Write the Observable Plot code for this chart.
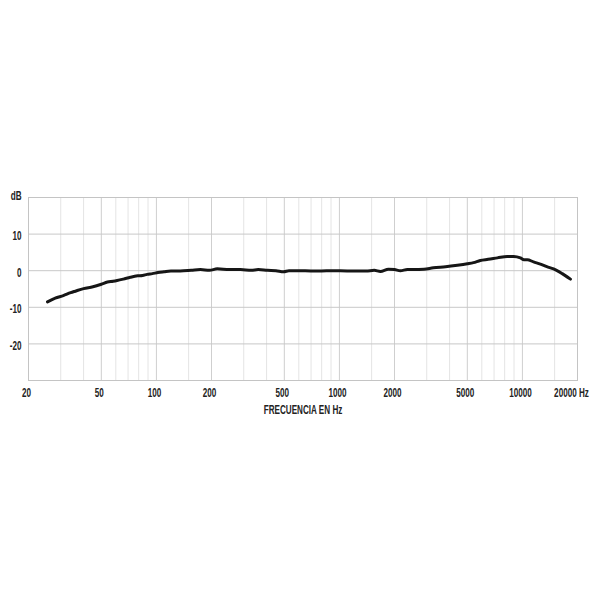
<!DOCTYPE html>
<html>
<head>
<meta charset="utf-8">
<script src="https://cdn.jsdelivr.net/npm/d3@7"></script>
<script src="https://cdn.jsdelivr.net/npm/@observablehq/plot@0.6"></script>
<style>
  html, body { margin: 0; padding: 0; background: #fff; }
  #chart { width: 600px; height: 600px; }
  svg text { font-family: "Liberation Sans", Arial, sans-serif; font-weight: bold; }
</style>
</head>
<body>
<div id="chart"></div>
<script>
const freqs = [25.4, 28, 31, 34, 36, 40, 45, 50, 54, 58, 61, 66, 72, 79, 84, 89, 95, 102, 110, 120, 135, 155, 174, 195, 215, 250, 288, 330, 360, 405, 450, 496, 530, 560, 650, 750, 850, 1013, 1200, 1400, 1550, 1675, 1853, 2000, 2154, 2350, 2540, 2900, 3260, 3800, 4410, 5000, 5400, 5890, 6500, 7300, 8260, 8960, 9750, 10200, 10640, 11500, 12540, 13600, 14800, 16500, 18300];
const levels = [-8.5, -7.5, -6.8, -6.0, -5.6, -4.9, -4.4, -3.7, -3.1, -2.9, -2.7, -2.3, -1.8, -1.4, -1.3, -1.0, -0.8, -0.5, -0.3, -0.1, -0.1, 0.1, 0.3, 0.1, 0.5, 0.3, 0.3, 0.1, 0.3, 0.1, 0.0, -0.3, 0.0, 0.0, 0.0, -0.1, 0.0, 0.0, -0.1, -0.1, 0.1, -0.2, 0.4, 0.3, 0.0, 0.3, 0.3, 0.4, 0.8, 1.1, 1.5, 1.9, 2.2, 2.8, 3.1, 3.5, 3.9, 3.9, 3.5, 3.0, 3.0, 2.4, 1.8, 1.1, 0.5, -0.8, -2.3];

const xTicks = [20, 50, 100, 200, 500, 1000, 2000, 5000, 10000];
const xMajorGrid = [50, 100, 200, 500, 1000, 2000, 5000, 10000];
const xMinorGrid = [30, 40, 60, 70, 80, 90, 150, 300, 400, 600, 700, 800, 900, 1500, 3000, 4000, 6000, 7000, 8000, 9000, 15000];
const yTicks = [-20, -10, 0, 10];
const yGrid = [-20, -10, 0, 10];
const lastTick = [{f: 20000, label: "20000 Hz"}];
const unitLabel = [{v: 20, label: "dB"}];
const xTitle = "FRECUENCIA EN Hz";

const data = freqs.map((f, i) => ({f, v: levels[i]}));

const chart = Plot.plot({
  width: 600,
  height: 600,
  marginLeft: 28,
  marginRight: 23,
  marginTop: 197,
  marginBottom: 220,
  style: {fontSize: "12.5px", color: "#222"},
  x: {type: "log", domain: [20, 20000], axis: null},
  y: {domain: [-30, 20], axis: null},
  marks: [
    Plot.ruleX(xMinorGrid, {stroke: "#e4e4e4", strokeWidth: 1}),
    Plot.ruleX(xMajorGrid, {stroke: "#cfcfcf", strokeWidth: 1}),
    Plot.ruleY(yGrid, {stroke: "#c8c8c8", strokeWidth: 1}),
    Plot.frame({stroke: "#c4c4c4"}),
    Plot.text(xTicks, {x: d => d, text: d => String(d), frameAnchor: "bottom", dy: 16, dx: -2, fill: "#222"}),
    Plot.text([xTitle], {text: d => d, frameAnchor: "bottom", dy: 33, fill: "#222"}),
    Plot.text(lastTick, {x: "f", text: "label", frameAnchor: "bottom", dy: 16, dx: -6, fill: "#222"}),
    Plot.text(yTicks, {y: d => d, text: d => String(d), frameAnchor: "left", textAnchor: "end", dx: -7, dy: 2, fill: "#222"}),
    Plot.text(unitLabel, {y: "v", text: "label", frameAnchor: "left", textAnchor: "end", dx: -7, dy: -2, fill: "#222"}),
    Plot.line(data, {x: "f", y: "v", stroke: "#161616", strokeWidth: 3, curve: "monotone-x"})
  ]
});

// condense all texts horizontally (narrow bold lettering)
chart.querySelectorAll("text").forEach(el => {
  const t = el.getAttribute("transform") || "";
  el.setAttribute("transform", `${t} scale(0.65,1)`);
});
document.getElementById("chart").appendChild(chart);
</script>
</body>
</html>
